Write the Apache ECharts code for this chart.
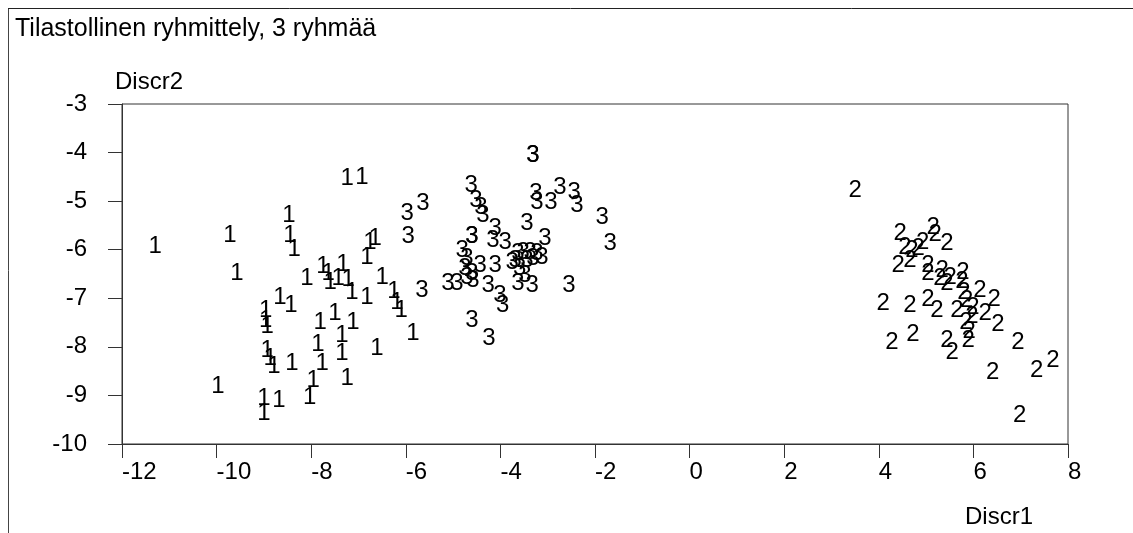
<!DOCTYPE html>
<html>
<head>
<meta charset="utf-8">
<script src="https://cdn.jsdelivr.net/npm/echarts@6/dist/echarts.min.js"></script>
<style>
html,body{margin:0;padding:0;background:#fff;}
#chart{width:1133px;height:533px;}
</style>
</head>
<body>
<div id="chart"></div>
<script>
// Group 1
const group1X = [-11.30,-9.72,-8.47,-8.45,-8.36,-9.57,-8.09,-8.66,-8.43,-8.96,-8.96,-8.93,-8.93,-8.87,-8.79,-8.41,-9.97,-9.00,-9.00,-8.68,-8.03,-7.24,-6.93,-6.76,-6.65,-6.82,-7.75,-7.64,-7.60,-7.43,-7.33,-7.22,-7.14,-6.82,-6.50,-6.25,-6.19,-6.10,-5.85,-7.81,-7.50,-7.12,-7.86,-7.35,-7.35,-6.61,-7.77,-7.96,-7.24];
const group1Y = [-5.93,-5.70,-5.29,-5.70,-5.99,-6.48,-6.59,-6.98,-7.14,-7.25,-7.45,-7.58,-8.07,-8.24,-8.40,-8.34,-8.81,-9.06,-9.37,-9.10,-9.04,-4.53,-4.51,-5.85,-5.76,-6.15,-6.34,-6.48,-6.67,-6.59,-6.30,-6.61,-6.88,-6.98,-6.57,-6.86,-7.08,-7.25,-7.72,-7.49,-7.31,-7.49,-7.95,-7.76,-8.13,-8.03,-8.34,-8.69,-8.65];
// Group 2
const group2X = [3.50,4.45,5.15,5.19,5.44,4.93,4.55,4.70,4.83,4.41,4.66,5.04,5.04,5.34,5.29,5.51,5.44,5.78,5.76,5.80,6.14,5.86,6.44,4.09,4.66,5.04,5.23,5.65,5.99,6.25,5.97,5.84,5.91,6.52,4.28,4.72,5.44,5.55,5.89,6.94,6.41,7.34,7.68,6.98];
const group2Y = [-4.77,-5.66,-5.54,-5.68,-5.87,-5.85,-5.95,-6.01,-5.97,-6.32,-6.22,-6.32,-6.48,-6.42,-6.59,-6.57,-6.69,-6.46,-6.65,-6.88,-6.84,-7.04,-7.02,-7.10,-7.14,-7.02,-7.25,-7.25,-7.19,-7.31,-7.37,-7.49,-7.68,-7.54,-7.91,-7.74,-7.87,-8.11,-7.87,-7.91,-8.53,-8.48,-8.28,-9.41];
// Group 3
const group3X = [-3.31,-3.31,-4.62,-4.52,-4.41,-4.37,-3.25,-3.23,-2.93,-2.74,-2.44,-2.38,-1.85,-1.68,-3.44,-3.06,-4.60,-4.60,-4.11,-4.16,-3.90,-4.81,-4.71,-4.43,-4.11,-3.75,-3.63,-3.52,-3.37,-3.23,-3.12,-3.69,-3.44,-3.31,-3.59,-3.48,-4.75,-4.60,-4.71,-4.58,-5.11,-4.92,-4.26,-3.63,-3.33,-4.01,-3.95,-2.55,-4.60,-4.24,-5.97,-5.64,-5.95,-5.66];
const group3Y = [-4.05,-4.05,-4.67,-4.98,-5.12,-5.29,-4.84,-5.02,-5.02,-4.71,-4.81,-5.08,-5.33,-5.87,-5.45,-5.76,-5.72,-5.72,-5.56,-5.80,-5.85,-6.01,-6.18,-6.32,-6.32,-6.26,-6.07,-6.05,-6.05,-6.07,-6.15,-6.22,-6.22,-6.18,-6.38,-6.53,-6.38,-6.48,-6.57,-6.63,-6.69,-6.69,-6.73,-6.69,-6.73,-6.94,-7.14,-6.73,-7.45,-7.82,-5.25,-5.04,-5.72,-6.84];

const groupNames = ['1','2','3'];
const titleText = 'Tilastollinen ryhmittely, 3 ryhmää';
const xName = 'Discr1';
const yName = 'Discr2';

const FONT = "'Liberation Sans', Arial, sans-serif";
const FS = 24;

function pts(xs, ys){ return xs.map((x,i)=>[x, ys[i]]); }

function mkSeries(name, xs, ys){
  return {
    type:'scatter', name:name, data:pts(xs,ys),
    symbolSize:1, itemStyle:{color:'#fff', opacity:0},
    silent:true, animation:false, clip:false,
    emphasis:{disabled:true},
    label:{show:true, position:'inside', formatter:name, color:'#000', opacity:1, fontSize:FS, fontFamily:FONT}
  };
}

const chart = echarts.init(document.getElementById('chart'), null, {renderer:'canvas'});
chart.setOption({
  animation:false,
  backgroundColor:'#fff',
  title:[
    {text:titleText, left:15, top:17, padding:0, textStyle:{fontSize:25, fontWeight:'normal', color:'#000', fontFamily:FONT}},
    {text:yName, left:115, top:70, padding:0, textStyle:{fontSize:FS, fontWeight:'normal', color:'#000', fontFamily:FONT}},
    {text:xName, left:965, top:505, padding:0, textStyle:{fontSize:FS, fontWeight:'normal', color:'#000', fontFamily:FONT}}
  ],
  graphic:[
    {type:'line', shape:{x1:8.5, y1:8, x2:8.5, y2:533}, style:{stroke:'#444', lineWidth:1}},
    {type:'line', shape:{x1:8, y1:8.5, x2:1133, y2:8.5}, style:{stroke:'#222', lineWidth:1}}
  ],
  grid:{left:122, right:65, top:104, bottom:89, show:true, borderColor:'#333', borderWidth:1, containLabel:false},
  xAxis:{
    type:'value', min:-12, max:8, interval:2,
    axisLine:{show:true, onZero:false, lineStyle:{color:'#333'}},
    axisTick:{show:true, inside:false, length:14, lineStyle:{color:'#333'}},
    splitLine:{show:false},
    axisLabel:{show:true, align:'left', margin:16, color:'#000', fontSize:FS, fontFamily:FONT, showMinLabel:true, showMaxLabel:true}
  },
  yAxis:{
    type:'value', min:-10, max:-3, interval:1,
    axisLine:{show:true, onZero:false, lineStyle:{color:'#333'}},
    axisTick:{show:true, inside:false, length:14, lineStyle:{color:'#333'}},
    splitLine:{show:false},
    axisLabel:{show:true, margin:35, color:'#000', fontSize:FS, fontFamily:FONT, showMinLabel:true, showMaxLabel:true}
  },
  series:[
    mkSeries(groupNames[0], group1X, group1Y),
    mkSeries(groupNames[1], group2X, group2Y),
    mkSeries(groupNames[2], group3X, group3Y)
  ]
});
</script>
</body>
</html>
